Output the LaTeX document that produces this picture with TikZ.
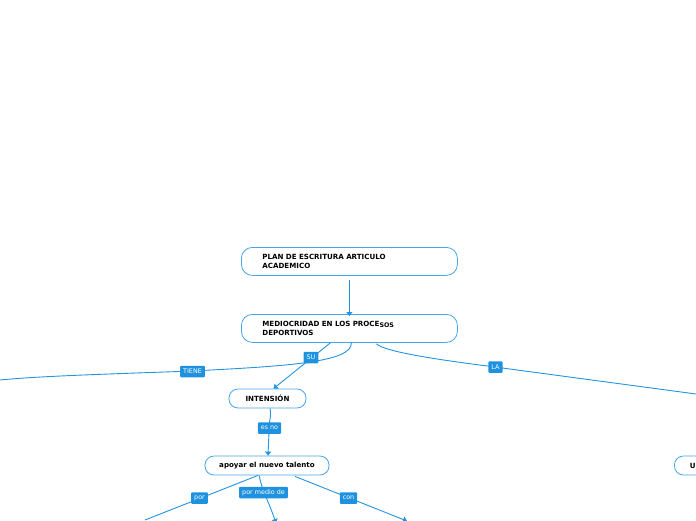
\documentclass[tikz,border=0pt]{standalone}
\usepackage{fontspec}
\setmainfont{DejaVu Sans}
\usetikzlibrary{arrows.meta,calc}
\definecolor{lineblue}{RGB}{33,148,226}
\definecolor{boxblue}{RGB}{70,165,235}
\definecolor{tagblue}{RGB}{30,146,222}
\tikzset{
  box/.style={draw=boxblue, line width=0.8pt, fill=white, rounded corners=11pt, font=\fontsize{7.1}{8.2}\selectfont\bfseries},
  tag/.style={fill=tagblue, rounded corners=1pt, text=white, font=\fontsize{6.4}{7}\selectfont, inner xsep=3pt, inner ysep=0pt, minimum height=11.5pt},
  conn/.style={draw=lineblue, line width=0.9pt},
  arr/.style={conn, -{Triangle[width=6pt,length=4pt]}}
}
\begin{document}
\begin{tikzpicture}[x=1pt,y=-1pt]
\useasboundingbox (0,0) rectangle (696,520);
\clip (0,0) rectangle (696,520);
% nodes
\node[box, anchor=north west, minimum width=216pt, minimum height=28pt, text width=174pt, align=left, inner xsep=21pt, inner ysep=0pt] (plan) at (241,247) {PLAN DE ESCRITURA ARTICULO\\ACADEMICO};
\node[box, anchor=north west, minimum width=216pt, minimum height=28pt, text width=174pt, align=left, inner xsep=21pt, inner ysep=0pt] (medio) at (241,314) {MEDIOCRIDAD EN LOS PROCE\raisebox{-1pt}{\fontsize{6.3}{7}\selectfont SOS}\\DEPORTIVOS};
\node[box, minimum width=77pt, minimum height=19pt, inner sep=0pt, rounded corners=9pt] (inten) at (267.5,398.5) {INTENSIÓN};
\node[box, minimum width=124pt, minimum height=19pt, inner sep=0pt, rounded corners=9pt] (apoyar) at (267,465.5) {apoyar el nuevo talento};
\node[box, anchor=west, minimum width=60pt, minimum height=19pt, inner sep=0pt, rounded corners=9pt, text width=60pt, align=left, inner xsep=0pt] (unode) at (674,465.5) {\hspace*{15.5pt}U};
% free ends
\coordinate (tieneend) at (0,380);
\coordinate (laend) at (696,394);
\coordinate (porend) at (145,520);
\coordinate (mediodeend) at (276,523);
\coordinate (conend) at (407,521);
% connectors
\draw[arr, shorten <=4pt, shorten >=-2pt] (plan.south) -- (medio.north);
\draw[conn] ($(medio.south)+(2,0)$) .. controls (352,362) and (290,366) .. (192,371) .. controls (110,374) and (40,376) .. (tieneend);
\draw[conn] ($(medio.south)+(27,1)$) .. controls (385,352) and (440,360) .. (495,367) -- (laend);
\draw[arr] ($(medio.south)+(-19,0)$) -- ($(inten.north)+(6,0)$);
\draw[arr] ($(inten.south)+(2.5,0)$) .. controls (272,416) and (268,424) .. (269,432) -- ($(apoyar.north)+(1,0)$);
\draw[conn] ($(apoyar.south)+(-9,0)$) -- (porend);
\draw[arr] ($(apoyar.south)+(-8,0)$) .. controls (262,490) and (268,500) .. (mediodeend);
\draw[arr] ($(apoyar.south)+(28,1)$) -- (conend);
% labels
\node[tag] (ltiene) at (192.5,371.5) {TIENE};
\node[tag] (lsu) at (311,357.5) {SU};
\node[tag] (lla) at (495.5,367) {LA};
\node[tag] (lesno) at (269.5,428) {es no};
\node[tag] (lpor) at (199.5,498) {por};
\node[tag] (lmedio) at (263.5,492.5) {por medio de};
\node[tag] (lcon) at (348.5,498) {con};
\end{tikzpicture}
\end{document}
